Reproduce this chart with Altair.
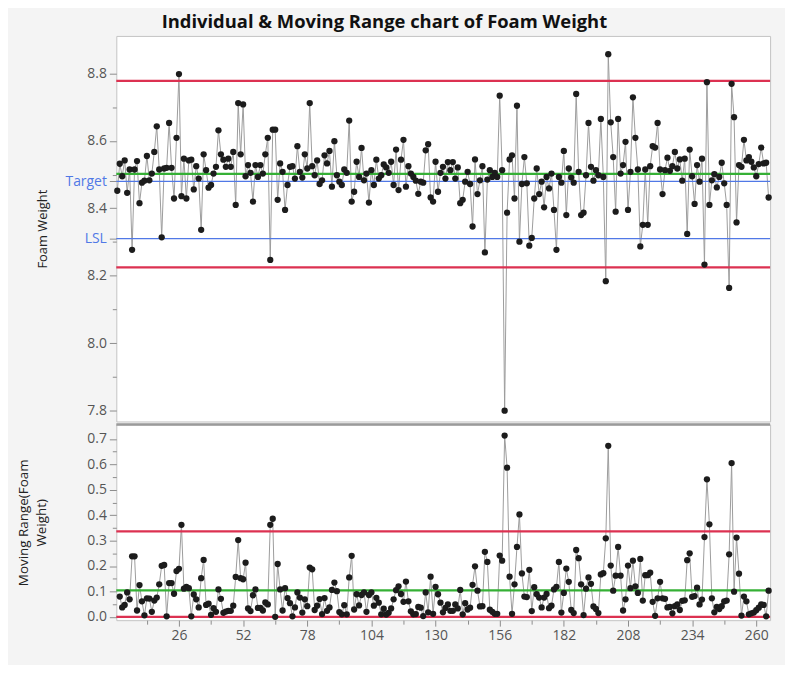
import altair as alt
import pandas as pd

# ---------------- data ----------------
foam_weight = [
    8.452, 8.532, 8.495, 8.542, 8.446, 8.515, 8.277, 8.515, 8.540, 8.415,
    8.476, 8.482, 8.555, 8.483, 8.503, 8.567, 8.643, 8.515, 8.314, 8.518,
    8.520, 8.653, 8.520, 8.429, 8.609, 8.798, 8.436, 8.547, 8.429, 8.542,
    8.544, 8.456, 8.525, 8.488, 8.336, 8.560, 8.513, 8.461, 8.469, 8.503,
    8.523, 8.631, 8.560, 8.544, 8.523, 8.547, 8.523, 8.567, 8.410, 8.712,
    8.560, 8.708, 8.495, 8.528, 8.505, 8.420, 8.528, 8.493, 8.528, 8.503,
    8.560, 8.609, 8.247, 8.633, 8.633, 8.425,
    8.533, 8.508, 8.395, 8.469, 8.523, 8.525, 8.488, 8.584, 8.508, 8.491,
    8.560, 8.518, 8.712, 8.525, 8.498, 8.542, 8.472, 8.483, 8.557, 8.533,
    8.570, 8.464, 8.599, 8.498, 8.479, 8.469, 8.515, 8.505, 8.660, 8.420,
    8.449, 8.538, 8.493, 8.579, 8.483, 8.503, 8.417, 8.513, 8.469, 8.544,
    8.488, 8.498, 8.530, 8.521, 8.505, 8.538, 8.469, 8.574, 8.454, 8.544,
    8.603, 8.464, 8.525, 8.503, 8.493, 8.482, 8.443, 8.479, 8.476, 8.572,
    8.590, 8.432, 8.420, 8.538, 8.449, 8.505, 8.523,
    8.488, 8.537, 8.513, 8.537, 8.488, 8.521, 8.415, 8.425, 8.479, 8.508,
    8.472, 8.346, 8.545, 8.442, 8.483, 8.525, 8.269, 8.485, 8.513, 8.493,
    8.505, 8.493, 8.734, 8.513, 7.800, 8.387, 8.545, 8.557, 8.429, 8.704,
    8.301, 8.472, 8.552, 8.474, 8.289, 8.312, 8.429, 8.518, 8.442, 8.479,
    8.403, 8.493, 8.459, 8.503, 8.395, 8.277, 8.493, 8.476, 8.570, 8.380,
    8.518, 8.491, 8.476, 8.739, 8.508, 8.380, 8.387, 8.498, 8.653, 8.523,
    8.482, 8.513, 8.498, 8.665, 8.493,
    8.184, 8.857,
    8.655, 8.552, 8.390, 8.665, 8.503, 8.528, 8.597, 8.395, 8.508, 8.729,
    8.609, 8.515, 8.287, 8.351, 8.515, 8.351, 8.525, 8.584, 8.580, 8.653,
    8.515, 8.442, 8.513, 8.550, 8.511, 8.525, 8.567, 8.518, 8.545, 8.482,
    8.547, 8.324, 8.574, 8.495, 8.413, 8.528, 8.479, 8.547, 8.233, 8.774,
    8.410, 8.483, 8.501, 8.462, 8.493, 8.535, 8.474, 8.410, 8.164, 8.769,
    8.670, 8.358, 8.528, 8.523, 8.603, 8.542, 8.552, 8.538, 8.521, 8.495,
    8.531, 8.580, 8.533, 8.535, 8.432,
]
sample = list(range(1, len(foam_weight) + 1))

# control limits / spec lines
i_limits = [8.778, 8.225]      # UCL, LCL (red)
i_center = [8.502]             # centre line (green)
spec_lines = [8.48, 8.31]      # Target, LSL (blue)
mr_limits = [0.336, 0.0]       # UCL, LCL (red)
mr_center = [0.104]            # centre line (green)

# axis tick values / labels
x_ticks = [13, 26, 39, 52, 65, 78, 91, 104, 117, 130, 143, 156, 169, 182,
           195, 208, 221, 234, 247, 260]
y_ticks_i = [7.8, 7.9, 8.0, 8.1, 8.2, 8.3, 8.4, 8.5, 8.6, 8.7, 8.8, 8.31, 8.48]
y_ticks_mr = [0.0, 0.05, 0.1, 0.15, 0.2, 0.25, 0.3, 0.35, 0.4, 0.45, 0.5,
              0.55, 0.6, 0.65, 0.7]

df = pd.DataFrame({"Sample": sample, "Foam Weight": foam_weight})
df["MR"] = df["Foam Weight"].diff().abs()
mr_df = df.dropna().reset_index(drop=True)

# ---------------- styling ----------------
FONT = "Open Sans"
RED = "#dc3151"
GREEN = "#35b035"
BLUE = "#5078e6"
LABEL = "#555555"
W = 658
H_TOP = 388
H_MR = 197

x_scale = alt.Scale(domain=[0.6, 265.6], nice=False, zero=False)
yi_scale = alt.Scale(domain=[7.768, 8.911], nice=False, zero=False)
ymr_scale = alt.Scale(domain=[-0.013, 0.757], nice=False, zero=False)

y_axis_i = alt.Axis(
    values=y_ticks_i,
    title="Foam Weight",
    titleFont=FONT, titleFontSize=13, titleFontWeight="normal", titleColor="#222222",
    titleX=-67, titleY=H_TOP / 2,
    labelExpr="datum.value == 8.48 ? 'Target' : datum.value == 8.31 ? 'LSL' : "
              "(round(datum.value*10) % 2 == 1 ? '' : format(datum.value, '.1f'))",
    labelColor={"condition": {"test": "datum.value == 8.48 || datum.value == 8.31",
                              "value": BLUE}, "value": LABEL},
    tickSize={"condition": {"test": "round(datum.value*10) % 2 == 1 && datum.value != 8.48 && datum.value != 8.31",
                            "value": 4}, "value": 7},
    tickColor="#8c8c8c", domain=False, grid=False, labelOverlap=False,
    labelPadding=3, labelFont=FONT, labelFontSize=14,
)

y_axis_mr = alt.Axis(
    values=y_ticks_mr,
    title=["Moving Range(Foam", "Weight)"],
    titleFont=FONT, titleFontSize=13.5, titleFontWeight="normal", titleColor="#222222",
    titleX=-86, titleY=H_MR / 2, titleLineHeight=18,
    labelExpr="round(datum.value*100) % 10 == 5 ? '' : format(datum.value, '.1f')",
    labelColor=LABEL,
    tickSize={"condition": {"test": "round(datum.value*100) % 10 == 5", "value": 4}, "value": 7},
    tickColor="#8c8c8c", domain=False, grid=False, labelOverlap=False,
    labelPadding=3, labelFont=FONT, labelFontSize=14,
)

x_axis_mr = alt.Axis(
    values=x_ticks, title=None,
    labelExpr="datum.value % 26 == 0 ? format(datum.value, 'd') : ''",
    labelColor=LABEL, labelFont=FONT, labelFontSize=14,
    tickSize={"condition": {"test": "datum.value % 26 != 0", "value": 4}, "value": 6},
    tickColor="#8c8c8c", domain=False, grid=False, labelOverlap=False, labelPadding=2,
)


def hlines(values, color, width, yscale, yaxis):
    return alt.Chart(pd.DataFrame({"v": values})).mark_rule(
        color=color, strokeWidth=width
    ).encode(y=alt.Y("v:Q", scale=yscale, axis=yaxis))


# ---------------- individuals panel ----------------
base_i = alt.Chart(df).encode(
    x=alt.X("Sample:Q", scale=x_scale, axis=None),
    y=alt.Y("Foam Weight:Q", scale=yi_scale, axis=y_axis_i),
)
top = alt.layer(
    base_i.mark_line(color="#9c9c9c", strokeWidth=1),
    hlines(spec_lines, BLUE, 1.2, yi_scale, y_axis_i),
    hlines(i_limits, RED, 2.2, yi_scale, y_axis_i),
    hlines(i_center, GREEN, 2.2, yi_scale, y_axis_i),
    base_i.mark_circle(size=40, color="#1c1c1c", opacity=1),
).properties(width=W, height=H_TOP)

# ---------------- moving range panel ----------------
base_mr = alt.Chart(mr_df).encode(
    x=alt.X("Sample:Q", scale=x_scale, axis=x_axis_mr),
    y=alt.Y("MR:Q", scale=ymr_scale, axis=y_axis_mr),
)
separator = alt.Chart(pd.DataFrame({"v": [0]})).mark_rule(
    color="#9a9a9a", strokeWidth=2.5
).encode(x=alt.value(0), x2=alt.value(W), y=alt.value(0))

bottom = alt.layer(
    base_mr.mark_line(color="#9c9c9c", strokeWidth=1),
    hlines(mr_limits, RED, 2.2, ymr_scale, y_axis_mr),
    hlines(mr_center, GREEN, 2.2, ymr_scale, y_axis_mr),
    base_mr.mark_circle(size=40, color="#1c1c1c", opacity=1),
    separator,
).properties(width=W, height=H_MR)

chart = alt.vconcat(top, bottom, spacing=0).properties(
    title=alt.TitleParams(
        "Individual & Moving Range chart of Foam Weight",
        font=FONT, fontSize=18.5, fontWeight="bold", color="#111111",
        anchor="middle", dx=-10, offset=4,
    ),
    background="#f4f4f4",
    padding={"left": 8, "top": 3, "right": 12, "bottom": 20},
).configure_view(stroke="#c4c4c4", strokeWidth=1, fill="white")

chart.save("out.html", embed_options={"renderer": "svg", "actions": False})
